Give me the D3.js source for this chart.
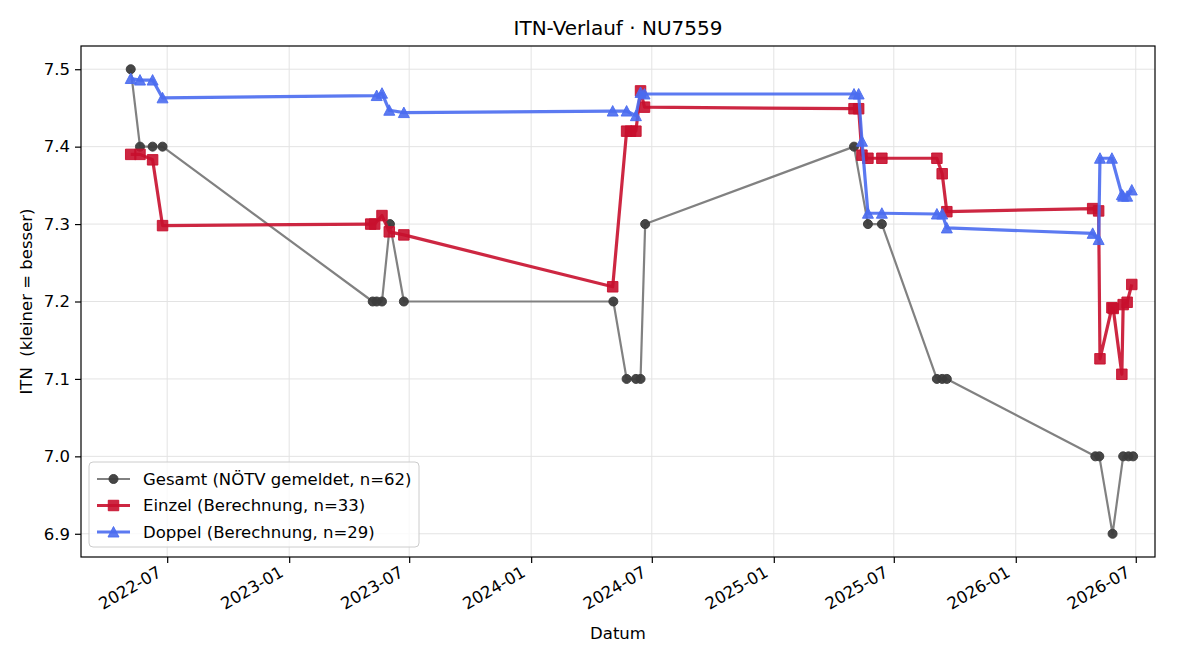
<!DOCTYPE html>
<html>
<head>
<meta charset="utf-8">
<style>
body { margin: 0; background: #fff; }
text { font-family: "DejaVu Sans", sans-serif; }
</style>
</head>
<body>
<div class="container"></div>
<script src="https://cdn.jsdelivr.net/npm/d3@7"></script>
<script>

// ITN values
var gesamtDates = ["2022-05-07","2022-05-21","2022-06-09","2022-06-24",
    "2023-05-07","2023-05-13","2023-05-21","2023-06-02","2023-06-23",
    "2024-05-04","2024-05-24","2024-06-07","2024-06-14","2024-06-21",
    "2025-05-02","2025-05-23","2025-06-13","2025-09-04","2025-09-12","2025-09-19",
    "2026-05-01","2026-05-07","2026-05-27","2026-06-12","2026-06-20","2026-06-27"];
var gesamtValues = [7.5, 7.4, 7.4, 7.4,
    7.2, 7.2, 7.2, 7.3, 7.2,
    7.2, 7.1, 7.1, 7.1, 7.3,
    7.4, 7.3, 7.3, 7.1, 7.1, 7.1,
    7.0, 7.0, 6.9, 7.0, 7.0, 7.0];

var einzelDates = ["2022-05-07","2022-05-21","2022-06-09","2022-06-24",
    "2023-05-04","2023-05-10","2023-05-21","2023-06-01","2023-06-23",
    "2024-05-03","2024-05-24","2024-05-30","2024-06-07","2024-06-14","2024-06-20",
    "2025-05-02","2025-05-09","2025-05-14","2025-05-23","2025-06-13","2025-09-04","2025-09-12","2025-09-19",
    "2026-04-27","2026-05-06","2026-05-08","2026-05-26","2026-05-28","2026-06-10","2026-06-12","2026-06-18","2026-06-25"];
var einzelValues = [7.390, 7.390, 7.383, 7.298,
    7.300, 7.300, 7.311, 7.290, 7.286,
    7.219, 7.420, 7.420, 7.420, 7.472, 7.451,
    7.449, 7.449, 7.389, 7.385, 7.385, 7.385, 7.365, 7.316,
    7.320, 7.317, 7.126, 7.192, 7.191, 7.106, 7.196, 7.199, 7.222];

var doppelDates = ["2022-05-07","2022-05-21","2022-06-09","2022-06-24",
    "2023-05-13","2023-05-21","2023-06-01","2023-06-23",
    "2024-05-03","2024-05-24","2024-06-07","2024-06-14","2024-06-20",
    "2025-05-02","2025-05-09","2025-05-14","2025-05-23","2025-06-13","2025-09-04","2025-09-12","2025-09-19",
    "2026-04-27","2026-05-06","2026-05-08","2026-05-26","2026-06-10","2026-06-12","2026-06-18","2026-06-25"];
var doppelValues = [7.488, 7.486, 7.486, 7.463,
    7.466, 7.469, 7.447, 7.444,
    7.446, 7.446, 7.440, 7.470, 7.468,
    7.468, 7.468, 7.407, 7.314, 7.314, 7.313, 7.313, 7.295,
    7.288, 7.280, 7.385, 7.385, 7.338, 7.336, 7.336, 7.344];

var xDomain = ["2022-02-21", "2026-07-30"];
var yTicks = [6.9, 7.0, 7.1, 7.2, 7.3, 7.4, 7.5];

var seriesLabels = ["Gesamt (NÖTV gemeldet, n=62)", "Einzel (Berechnung, n=33)", "Doppel (Berechnung, n=29)"];

var width = 1200, height = 660;
var margin = { top: 46, right: 45, bottom: 103, left: 81 };
var iw = width - margin.left - margin.right;
var ih = height - margin.top - margin.bottom;

var parse = d3.timeParse("%Y-%m-%d");
function zip(dates, values) {
    return dates.map(function(d, i) { return { date: parse(d), value: values[i] }; });
}
var gesamt = zip(gesamtDates, gesamtValues);
var einzel = zip(einzelDates, einzelValues);
var doppel = zip(doppelDates, doppelValues);

var all = gesamt.concat(einzel, doppel);
var yExt = d3.extent(all, function(d) { return d.value; });
var yPad = (yExt[1] - yExt[0]) * 0.05;

var x = d3.scaleTime()
          .domain(xDomain.map(parse))
          .range([0, iw]);
var y = d3.scaleLinear()
          .domain([yExt[0] - yPad, yExt[1] + yPad])
          .range([ih, 0]);

var svg = d3.select(".container").append("svg")
            .attr("width", width)
            .attr("height", height);

var g = svg.append("g").attr("transform", "translate(" + margin.left + "," + margin.top + ")");

var xTickVals = x.ticks(d3.timeMonth.every(6));

// grid
g.append("g").selectAll("line.gx")
    .data(xTickVals).enter().append("line")
        .attr("x1", function(d) { return x(d); })
        .attr("x2", function(d) { return x(d); })
        .attr("y1", 0).attr("y2", ih)
        .attr("stroke", "#e3e3e3").attr("stroke-width", 1);
g.append("g").selectAll("line.gy")
    .data(yTicks).enter().append("line")
        .attr("x1", 0).attr("x2", iw)
        .attr("y1", function(d) { return y(d); })
        .attr("y2", function(d) { return y(d); })
        .attr("stroke", "#e3e3e3").attr("stroke-width", 1);

// axes
var xAxis = g.append("g")
    .attr("transform", "translate(0," + ih + ")")
    .call(d3.axisBottom(x).tickValues(xTickVals).tickFormat(d3.timeFormat("%Y-%m")).tickSize(6).tickPadding(4));
xAxis.selectAll("text")
    .attr("font-size", "16.5px")
    .attr("fill", "#000")
    .attr("text-anchor", "end")
    .attr("dy", "0.6em")
    .attr("transform", "translate(-10,10) rotate(-30)")
    .attr("x", 0).attr("y", 0);

var yAxis = g.append("g")
    .call(d3.axisLeft(y).tickValues(yTicks).tickFormat(d3.format(".1f")).tickSize(6).tickPadding(5));
yAxis.selectAll("text").attr("font-size", "16.5px").attr("fill", "#000");

[xAxis, yAxis].forEach(function(a) {
    a.select(".domain").remove();
    a.selectAll(".tick line").attr("stroke", "#000").attr("stroke-width", 1.2);
});

g.append("rect")
    .attr("width", iw).attr("height", ih)
    .attr("fill", "none").attr("stroke", "#000").attr("stroke-width", 1.2);

var line = d3.line()
             .x(function(d) { return x(d.date); })
             .y(function(d) { return y(d.value); });

var triangle = "M0,-5.5L5.5,5L-5.5,5Z";
var square = d3.symbol().type(d3.symbolSquare).size(110)();
var circle = d3.symbol().type(d3.symbolCircle).size(64)();

function drawSeries(data, cfg) {
    var s = g.append("g");
    s.append("path")
        .datum(data)
        .attr("d", line)
        .attr("fill", "none")
        .attr("stroke", cfg.lineColor)
        .attr("stroke-width", cfg.lineWidth)
        .attr("stroke-opacity", cfg.opacity)
        .attr("stroke-linejoin", "round");
    s.selectAll("path.m")
        .data(data).enter().append("path")
            .attr("class", "m")
            .attr("d", cfg.marker)
            .attr("transform", function(d) { return "translate(" + x(d.date) + "," + y(d.value) + ")"; })
            .attr("fill", cfg.markerColor)
            .attr("fill-opacity", cfg.opacity)
            .attr("stroke", cfg.markerColor)
            .attr("stroke-opacity", cfg.opacity)
            .attr("stroke-width", 1);
}

var styles = [
    { lineColor: "#7a7a7a", markerColor: "#3c3c3c", lineWidth: 2.2, opacity: 0.95, marker: circle },
    { lineColor: "#c8102e", markerColor: "#c8102e", lineWidth: 3.2, opacity: 0.9, marker: square },
    { lineColor: "#4a6cf0", markerColor: "#4a6cf0", lineWidth: 3.2, opacity: 0.9, marker: triangle }
];

drawSeries(gesamt, styles[0]);
drawSeries(einzel, styles[1]);
drawSeries(doppel, styles[2]);

// legend
var lg = g.append("g").attr("transform", "translate(8," + (ih - 95) + ")");
lg.append("rect")
    .attr("width", 330).attr("height", 85)
    .attr("rx", 4)
    .attr("fill", "#fff").attr("fill-opacity", 0.8)
    .attr("stroke", "#cccccc");
seriesLabels.forEach(function(label, i) {
    var row = lg.append("g").attr("transform", "translate(0," + (17 + i * 26.5) + ")");
    var st = styles[i];
    row.append("line")
        .attr("x1", 8).attr("x2", 41)
        .attr("stroke", st.lineColor).attr("stroke-width", st.lineWidth)
        .attr("stroke-opacity", st.opacity);
    row.append("path")
        .attr("d", st.marker)
        .attr("transform", "translate(24.5,0)")
        .attr("fill", st.markerColor).attr("fill-opacity", st.opacity)
        .attr("stroke", st.markerColor).attr("stroke-opacity", st.opacity);
    row.append("text")
        .attr("x", 54).attr("dy", "0.35em")
        .attr("font-size", "16.5px")
        .text(label);
});

// title and axis labels
svg.append("text")
    .attr("x", margin.left + iw / 2).attr("y", 35)
    .attr("text-anchor", "middle")
    .attr("font-size", "20px")
    .text("ITN-Verlauf · NU7559");

svg.append("text")
    .attr("x", margin.left + iw / 2).attr("y", 639)
    .attr("text-anchor", "middle")
    .attr("font-size", "16.5px")
    .text("Datum");

svg.append("text")
    .attr("transform", "translate(32," + (margin.top + ih / 2) + ") rotate(-90)")
    .attr("text-anchor", "middle")
    .attr("font-size", "16.5px")
    .style("white-space", "pre")
    .text("ITN  (kleiner = besser)");

</script>
</body>
</html>
